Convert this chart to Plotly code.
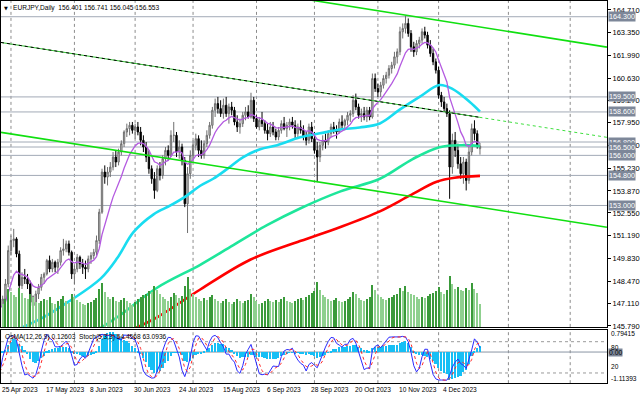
import plotly.graph_objects as go
import pandas as pd

# ---------------- data ----------------
opens = [147.3,146.9,147.4,148.3,150.3,150.9,151.0,150.1,148.2,148.7,
         148.6,148.3,147.2,147.0,147.7,148.1,148.7,148.9,149.7,149.2,
         149.6,149.3,149.6,150.3,150.4,150.7,150.2,148.9,149.2,149.9,
         149.5,149.3,149.2,149.8,150.0,150.2,150.9,152.6,155.0,154.7,
         155.0,155.3,155.9,155.6,156.2,156.7,157.4,157.6,157.8,157.5,
         157.7,157.4,156.9,156.5,155.9,155.2,154.6,153.9,155.2,154.8,
         155.8,156.3,156.0,157.2,157.2,156.2,156.5,155.7,153.1,154.9,
         156.0,156.6,157.0,156.3,156.0,156.7,157.2,157.8,158.7,159.1,
         158.8,158.5,159.0,158.5,158.9,158.7,158.0,157.7,157.9,158.4,
         158.6,158.3,159.3,158.2,157.7,158.1,157.9,157.5,157.3,157.7,
         157.4,157.1,157.5,157.9,157.6,157.8,158.0,157.8,157.3,157.7,
         157.5,157.1,156.9,157.7,157.0,156.3,155.9,156.6,156.9,156.8,
         157.3,157.7,157.5,157.4,158.0,157.8,158.1,158.4,158.5,159.3,
         158.9,158.4,158.5,158.3,158.7,158.3,160.6,160.0,159.8,160.2,
         160.6,160.8,161.2,161.4,161.9,162.2,163.4,163.6,163.9,163.3,
         162.5,162.2,162.7,162.9,163.4,163.2,162.6,162.1,161.6,161.1,
         159.6,159.2,158.8,158.5,155.3,156.9,156.3,155.5,154.9,155.6,
         154.5,156.2,157.6,157.3,156.401]
highs = [147.6,147.6,148.6,150.6,151.2,151.6,151.1,150.3,149.0,149.2,
         148.9,148.5,147.6,147.9,148.3,148.9,149.0,149.8,150.0,149.8,
         149.7,149.8,150.5,151.0,150.9,150.9,150.3,149.4,150.1,150.0,
         149.8,149.7,150.0,150.2,150.4,151.2,152.8,155.2,155.4,155.3,
         155.6,156.2,156.3,156.4,156.9,157.5,157.9,158.0,158.0,157.9,
         158.0,157.7,157.2,156.8,156.3,155.4,155.0,155.4,155.6,156.0,
         156.5,156.6,157.5,158.0,157.4,156.9,156.7,155.9,155.3,156.3,
         156.9,157.3,157.2,156.9,156.9,157.5,158.0,158.9,159.4,159.5,
         159.3,159.4,159.5,159.1,159.2,158.9,158.4,158.2,158.6,158.9,
         159.0,159.75,159.5,158.4,158.3,158.6,158.1,157.9,158.0,158.0,
         157.6,157.7,158.1,158.3,158.0,158.2,158.3,158.1,157.9,158.1,
         157.8,157.4,157.9,158.0,157.4,156.8,156.8,157.2,157.3,157.5,
         157.9,158.0,157.8,158.2,158.4,158.2,158.6,158.7,159.6,159.7,
         159.1,158.8,158.9,158.9,158.9,160.9,160.9,160.3,160.4,160.8,
         161.0,161.4,161.6,162.2,162.4,163.7,163.9,164.35,164.2,163.5,
         162.8,162.9,163.1,163.6,163.7,163.4,162.9,162.4,161.8,161.3,
         159.8,159.5,159.1,158.7,157.3,157.4,156.7,155.9,155.9,155.8,
         156.5,157.9,158.1,157.5,156.741]
lows = [146.7,146.8,147.2,148.1,150.0,150.5,149.9,147.9,148.0,148.3,
        148.0,146.9,146.8,146.9,147.4,147.9,148.3,148.8,149.0,149.0,
        149.0,148.9,149.4,150.0,150.2,150.0,148.6,148.3,149.0,149.2,
        148.9,148.6,149.0,149.5,149.8,150.0,150.7,152.5,154.3,154.2,
        154.7,155.1,155.3,155.4,156.0,156.5,157.1,157.2,157.3,157.0,
        157.2,156.6,156.2,155.6,154.9,154.3,153.4,153.8,154.5,154.6,
        155.4,155.7,155.9,156.8,155.9,155.8,155.4,152.9,151.35,154.6,
        155.6,156.3,155.9,155.8,155.8,156.5,157.0,157.6,158.3,158.5,
        158.3,158.2,158.3,157.9,158.4,157.8,157.4,157.3,157.7,158.1,
        158.2,158.2,158.0,157.6,157.5,157.7,157.3,156.9,157.1,157.2,
        156.9,156.9,157.3,157.5,157.1,157.5,157.6,157.0,157.0,157.3,
        156.9,156.6,156.7,156.8,156.1,154.4,155.6,156.3,156.4,156.6,
        157.1,157.3,157.0,157.3,157.6,157.5,157.8,158.0,158.3,158.7,
        158.2,158.0,158.1,158.0,158.1,158.2,159.8,159.5,159.5,160.0,
        160.3,160.6,160.9,161.2,161.5,162.0,163.0,163.3,163.1,162.2,
        161.9,162.0,162.4,162.7,163.0,162.4,161.9,161.4,160.9,159.4,
        158.9,158.6,158.3,153.4,154.9,155.9,155.2,154.6,154.3,153.9,
        154.3,156.0,156.9,156.4,156.045]
closes = [146.9,147.4,148.3,150.3,150.9,151.0,150.1,148.2,148.7,148.6,
          148.3,147.2,147.0,147.7,148.1,148.7,148.9,149.7,149.2,149.6,
          149.3,149.6,150.3,150.4,150.7,150.2,148.9,149.2,149.9,149.5,
          149.3,149.2,149.8,150.0,150.2,150.9,152.6,155.0,154.7,155.0,
          155.3,155.9,155.6,156.2,156.7,157.4,157.6,157.8,157.5,157.7,
          157.4,156.9,156.5,155.9,155.2,154.6,153.9,155.2,154.8,155.8,
          156.3,156.0,157.2,157.2,156.2,156.5,155.7,153.1,154.9,156.0,
          156.6,157.0,156.3,156.0,156.7,157.2,157.8,158.7,159.1,158.8,
          158.5,159.0,158.5,158.9,158.7,158.0,157.7,157.9,158.4,158.6,
          158.3,159.3,158.2,157.7,158.1,157.9,157.5,157.3,157.7,157.4,
          157.1,157.5,157.9,157.6,157.8,158.0,157.8,157.3,157.7,157.5,
          157.1,156.9,157.7,157.0,156.3,155.9,156.6,156.9,156.8,157.3,
          157.7,157.5,157.4,158.0,157.8,158.1,158.4,158.5,159.3,158.9,
          158.4,158.5,158.3,158.7,158.3,160.6,160.0,159.8,160.2,160.6,
          160.8,161.2,161.4,161.9,162.2,163.4,163.6,163.9,163.3,162.5,
          162.2,162.7,162.9,163.4,163.2,162.6,162.1,161.6,161.1,159.6,
          159.2,158.8,158.5,155.3,156.9,156.3,155.5,154.9,155.6,154.5,
          156.2,157.6,157.3,156.6,156.553]
volumes = [62,58,70,95,88,80,74,98,85,72,
           69,84,76,63,59,66,71,68,75,60,
           57,64,70,78,66,61,82,75,68,62,
           58,55,60,63,67,72,95,110,88,76,
           70,74,66,63,68,72,65,60,56,62,
           70,76,80,84,90,88,102,94,82,76,
           70,66,74,86,80,72,78,104,125,96,
           82,74,70,66,72,68,74,80,71,65,
           60,64,69,63,58,62,70,66,61,64,
           68,82,76,65,58,60,66,70,64,62,
           67,63,69,74,66,62,60,65,70,72,
           68,74,80,86,90,112,92,80,74,70,
           66,68,72,65,62,66,70,75,88,82,
           72,68,64,70,76,105,92,80,74,70,
           68,72,76,80,84,98,90,102,88,84,
           80,74,70,76,72,78,82,86,90,100,
           88,84,92,128,108,96,100,94,90,98,
           92,110,96,86,58]

# moving averages (bar index, price)
ema50_bars = [7.6,15.9,24.6,36.5,42.6,48.4,55.7,61.8,67.2,72.6,77.3,82.4,88.2,94.3,
              100.5,108.8,116,123.2,130.4,137.7,144.9,152.1,159.3,164,170.2,174]
ema50_vals = [145.67,146.32,147.21,148.62,149.87,151.4,152.47,153.0,153.53,154.18,154.6,
              155.19,155.9,156.37,156.61,157.08,157.32,157.55,157.67,157.91,158.74,159.5,
              160.21,159.98,159.21,158.62]
ema144_bars = [36.5,42.6,57.1,72.6,84.6,96.8,108.8,123.2,137.7,149.6,159.3,167.6,174]
ema144_vals = [145.67,146.32,148.09,149.45,150.63,151.82,152.82,153.83,154.6,155.78,
               156.49,156.61,156.55]
ema200_bars = [49.2,57.1,72.6,90.7,108.8,123.2,137.7,148.5,158.3,164.8,174]
ema200_vals = [145.67,146.32,147.97,149.75,150.87,151.7,152.65,153.59,154.42,154.66,154.77]

# drawn trend lines (bar index, price)
upper_channel_bars = [108.8, 220.0]
upper_channel_vals = [165.40, 162.48]
lower_channel_bars = [0.39, 220.0]
lower_channel_vals = [157.38, 151.70]
mid_line_bars = [0.39, 173.8]
mid_line_vals = [162.76, 158.28]
mid_ext_bars = [173.8, 220.0]
mid_ext_vals = [158.28, 157.08]

levels = [164.3, 159.5, 158.6, 156.8, 156.5, 156.0, 154.8, 153.0]
price_ticks = [164.71, 163.35, 161.99, 160.63, 159.27, 157.95, 156.59, 155.23,
               153.87, 152.55, 151.19, 149.83, 148.47, 147.11, 145.79]
date_labels = ["25 Apr 2023", "17 May 2023", "8 Jun 2023", "30 Jun 2023", "24 Jul 2023",
               "15 Aug 2023", "6 Sep 2023", "28 Sep 2023", "20 Oct 2023", "10 Nov 2023",
               "4 Dec 2023"]
date_label_bars = [0, 16, 32, 48, 64, 80, 96, 112, 128, 144, 160]
month_grid_bars = [4, 27, 49, 70, 93, 114, 137, 159, 184.3, 206.7]

header = "EURJPY,Daily  156.401 156.741 156.045 156.553"
ind_caption = "OsMA(12,26,9) 0.12603  Stoch(5,3,3) 54.4568 63.0936"

# ---------------- derived indicators ----------------
idx = list(range(len(closes)))
c = pd.Series(closes)
h = pd.Series(highs)
l = pd.Series(lows)
ema_fast = c.ewm(span=10, adjust=False).mean()
macd = c.ewm(span=12, adjust=False).mean() - c.ewm(span=26, adjust=False).mean()
osma = macd - macd.rolling(9, min_periods=1).mean()
ll = l.rolling(5, min_periods=1).min()
hh = h.rolling(5, min_periods=1).max()
k = 100 * (c - ll).rolling(3, min_periods=1).sum() / (hh - ll).rolling(3, min_periods=1).sum()
d = k.rolling(3, min_periods=1).mean()
vcol = ["#3a9a3a" if i == 0 or volumes[i] >= volumes[i - 1] else "#8fd08f" for i in idx]

FONT = "Liberation Sans"
W, H = 640, 401
PW = 608
X0, X1 = 0.3866, 220.04
Y_TOP, Y_BOT = 165.242, 145.731


def xpaper(b):
    return (b - X0) / (X1 - X0)


fig = go.Figure()
fig.add_trace(go.Bar(x=idx, y=volumes, marker=dict(color=vcol, line=dict(width=0)),
                     width=0.38, xaxis="x", yaxis="y2", showlegend=False))
fig.add_trace(go.Candlestick(x=idx, open=opens, high=highs, low=lows, close=closes,
                             increasing=dict(line=dict(color="#6e6e6e", width=1), fillcolor="#d0d0d0"),
                             decreasing=dict(line=dict(color="#000000", width=1), fillcolor="#000000"),
                             whiskerwidth=0, xaxis="x", yaxis="y", showlegend=False))
fig.add_trace(go.Scatter(x=ema200_bars, y=ema200_vals, mode="lines", line=dict(color="#ff0000", width=2.6, shape="spline"),
                         xaxis="x", yaxis="y", showlegend=False))
fig.add_trace(go.Scatter(x=ema144_bars, y=ema144_vals, mode="lines", line=dict(color="#1ee69b", width=2.6, shape="spline"),
                         xaxis="x", yaxis="y", showlegend=False))
fig.add_trace(go.Scatter(x=ema50_bars, y=ema50_vals, mode="lines", line=dict(color="#19dcf0", width=2.6, shape="spline"),
                         xaxis="x", yaxis="y", showlegend=False))
fig.add_trace(go.Scatter(x=idx, y=ema_fast, mode="lines", line=dict(color="#b45ae0", width=1.3),
                         xaxis="x", yaxis="y", showlegend=False))
for bx, by, st in [(upper_channel_bars, upper_channel_vals, dict(color="#10e010", width=1.6)),
                   (lower_channel_bars, lower_channel_vals, dict(color="#10e010", width=1.6)),
                   (mid_line_bars, mid_line_vals, dict(color="#30c030", width=1)),
                   (mid_line_bars, mid_line_vals, dict(color="#000000", width=1, dash="3px,3px")),
                   (mid_ext_bars, mid_ext_vals, dict(color="#40e040", width=1, dash="dot"))]:
    fig.add_trace(go.Scatter(x=bx, y=by, mode="lines", line=st, xaxis="x", yaxis="y",
                             showlegend=False, cliponaxis=True))

# indicator window
fig.add_trace(go.Bar(x=idx, y=osma, marker=dict(color="#16bff5", line=dict(width=0)), width=0.62,
                     xaxis="x2", yaxis="y3", showlegend=False))
fig.add_trace(go.Scatter(x=idx, y=k, mode="lines", line=dict(color="#2a2aff", width=1),
                         xaxis="x2", yaxis="y4", showlegend=False))
fig.add_trace(go.Scatter(x=idx, y=d, mode="lines", line=dict(color="#ff2a2a", width=1, dash="dot"),
                         xaxis="x2", yaxis="y4", showlegend=False))

main_dom = [(H - 330) / H, 1.0]
ind_dom = [(H - 387) / H, (H - 333) / H]
ax_common = dict(showgrid=False, zeroline=False, showline=True, linecolor="#000000", linewidth=1, mirror=True)

fig.update_layout(
    width=W, height=H, margin=dict(l=0, r=W - PW, t=0, b=0),
    paper_bgcolor="#ffffff", plot_bgcolor="#ffffff", bargap=0,
    xaxis=dict(domain=[0, 1], range=[X0, X1], showticklabels=False, ticks="", anchor="y",
               rangeslider=dict(visible=False), **ax_common),
    xaxis2=dict(domain=[0, 1], range=[X0, X1], showticklabels=False, ticks="", anchor="y3",
                matches="x", **ax_common),
    yaxis=dict(domain=main_dom, range=[Y_BOT, Y_TOP], side="right", anchor="x",
               tickvals=price_ticks, ticktext=["%.3f" % v for v in price_ticks],
               ticks="outside", ticklen=3, tickcolor="#000000",
               tickfont=dict(family=FONT, size=7.5, color="#000000"), **ax_common),
    yaxis2=dict(overlaying="y", range=[0, 820], visible=False, anchor="x"),
    yaxis3=dict(domain=ind_dom, range=[-1.11393, 0.79415], anchor="x2", side="right",
                showticklabels=False, ticks="", **ax_common),
    yaxis4=dict(overlaying="y3", range=[0.45, 102.7], visible=False, anchor="x2"),
)

shapes = []
for g in month_grid_bars:
    for yr in ["y domain", "y3 domain"]:
        shapes.append(dict(type="line", xref="x", yref=yr, x0=g, x1=g, y0=0, y1=1,
                           line=dict(color="#8c8c8c", width=1, dash="dot"), layer="below"))
for lv in levels:
    shapes.append(dict(type="line", xref="x domain", yref="y", x0=0, x1=1, y0=lv, y1=lv,
                       line=dict(color="#a2aab6", width=1), layer="below"))
for lv in [80, 20]:
    shapes.append(dict(type="line", xref="x2 domain", yref="y4", x0=0, x1=1, y0=lv, y1=lv,
                       line=dict(color="#9a9a9a", width=1, dash="dot"), layer="below"))
shapes.append(dict(type="line", xref="x2 domain", yref="y3", x0=0, x1=1, y0=0, y1=0,
                   line=dict(color="#8a94a4", width=1), layer="below"))
fig.update_layout(shapes=shapes)

ann = []
for lv in levels:
    ann.append(dict(xref="paper", yref="y", x=1, y=lv, xanchor="left", yanchor="middle", xshift=1,
                    text="%.3f" % lv, showarrow=False, bgcolor="#7d8799", borderpad=0,
                    font=dict(family=FONT, size=7.2, color="#ffffff")))
ann.append(dict(xref="paper", yref="y3", x=1, y=0, xanchor="left", yanchor="middle", xshift=1,
                text="0.00", showarrow=False, bgcolor="#7d8799", borderpad=0,
                font=dict(family=FONT, size=6.8, color="#000000")))
for txt, yv, yr, ya, ys in [("0.79415", 0.79415, "y3", "top", 2), ("-1.11393", -1.11393, "y3", "bottom", -1),
                            ("80", 80, "y4", "top", 0), ("20", 20, "y4", "bottom", 1)]:
    ann.append(dict(xref="paper", yref=yr, x=1, y=yv, xanchor="left", yanchor=ya, xshift=2, yshift=ys,
                    text=txt, showarrow=False, font=dict(family=FONT, size=6.6, color="#000000")))
for b, t in zip(date_label_bars, date_labels):
    ann.append(dict(xref="paper", yref="paper", x=xpaper(b), y=(H - 387) / H, xanchor="left", yanchor="top",
                    yshift=-1, text=t, showarrow=False, font=dict(family=FONT, size=6.6, color="#000000")))
ann.append(dict(xref="paper", yref="paper", x=1 / PW, y=1, xanchor="left", yanchor="top", yshift=-2,
                text="▼", showarrow=False, font=dict(family="DejaVu Sans", size=5, color="#000000")))
ann.append(dict(xref="paper", yref="paper", x=10 / PW, y=1, xanchor="left", yanchor="top", yshift=-1,
                text=header, showarrow=False, font=dict(family=FONT, size=6.6, color="#000000")))
ann.append(dict(xref="paper", yref="paper", x=2 / PW, y=ind_dom[1], xanchor="left", yanchor="top", yshift=-1,
                text=ind_caption, showarrow=False, font=dict(family=FONT, size=6.6, color="#000000")))
fig.update_layout(annotations=ann)

fig.write_html("out.html")
